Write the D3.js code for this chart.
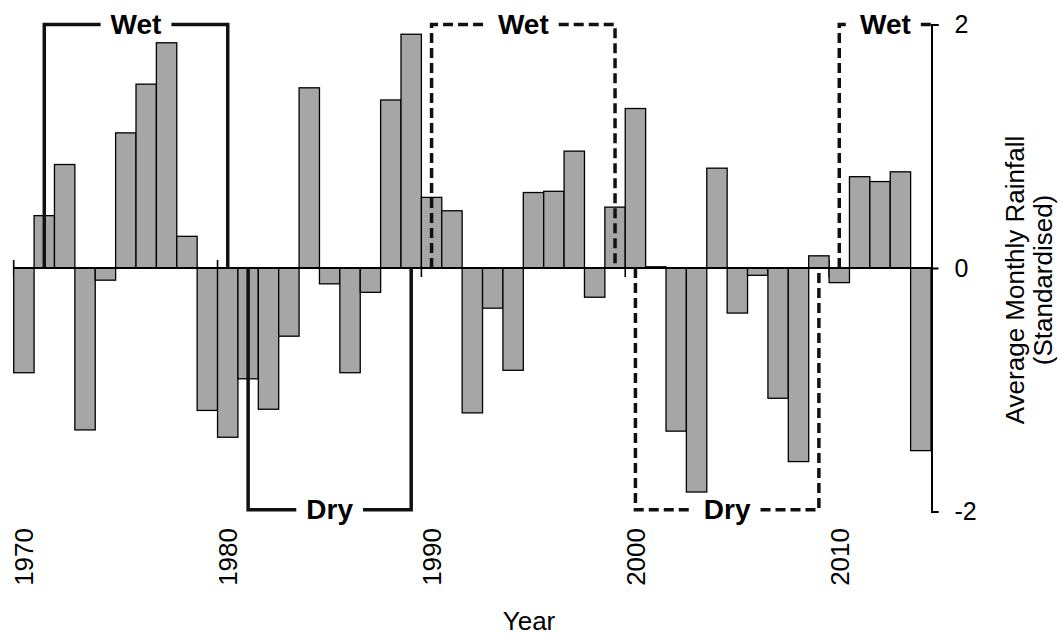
<!DOCTYPE html>
<html>
<head>
<meta charset="utf-8">
<script src="https://cdn.jsdelivr.net/npm/d3@7"></script>
<style>
  body { margin: 0; background: #fff; }
  svg { display: block; }
  text { font-family: "Liberation Sans", Arial, Helvetica, sans-serif; fill: #000; }
</style>
</head>
<body>
<svg id="chart" width="1062" height="637"></svg>
<script>
// Standardised average monthly rainfall, one value per year
const years = [
  1970, 1971, 1972, 1973, 1974, 1975, 1976, 1977, 1978, 1979,
  1980, 1981, 1982, 1983, 1984, 1985, 1986, 1987, 1988, 1989,
  1990, 1991, 1992, 1993, 1994, 1995, 1996, 1997, 1998, 1999,
  2000, 2001, 2002, 2003, 2004, 2005, 2006, 2007, 2008, 2009,
  2010, 2011, 2012, 2013, 2014
];
const rainfall = [
  -0.86, 0.43, 0.85, -1.33, -0.10, 1.11, 1.51, 1.85, 0.26, -1.17,
  -1.39, -0.91, -1.16, -0.56, 1.48, -0.13, -0.86, -0.20, 1.38, 1.92,
  0.58, 0.47, -1.19, -0.33, -0.84, 0.62, 0.63, 0.96, -0.24, 0.50,
  1.31, 0.01, -1.34, -1.84, 0.82, -0.37, -0.06, -1.07, -1.59, 0.10,
  -0.12, 0.75, 0.71, 0.79, -1.50
];

// Axis ticks and labels
const decadeTicks = [1970, 1980, 1990, 2000, 2010];
const valueTicks = [-2, 0, 2];

// Wet / dry phases (first and last year of each; null = still running)
const phaseLabels = ["Wet", "Dry", "Wet", "Dry", "Wet"];
const phaseStart  = [1971, 1981, 1990, 2000, 2010];
const phaseEnd    = [1980, 1989, 1999, 2009, null];
const phaseSet    = [1, 1, 2, 2, 2];

const svg = d3.select("#chart");

const x = d3.scaleBand().domain(years).range([13.7, 931]).padding(0);
const y = d3.scaleLinear().domain([-2, 2]).range([511.5, 24.5]);
const bw = x.bandwidth();
const y0 = y(0);
const axisX = 931.5;

// Decade tick marks on the zero line
svg.append("g")
  .selectAll("line")
  .data(decadeTicks)
  .join("line")
  .attr("x1", d => x(d)).attr("x2", d => x(d))
  .attr("y1", y0 - 8).attr("y2", y0 + 9)
  .attr("stroke", "#000").attr("stroke-width", 1.6);

// Bars
svg.append("g")
  .selectAll("rect")
  .data(years.map((yr, i) => ({ yr, v: rainfall[i] })))
  .join("rect")
  .attr("x", d => x(d.yr))
  .attr("width", bw)
  .attr("y", d => y(Math.max(0, d.v)))
  .attr("height", d => Math.abs(y(d.v) - y0))
  .attr("fill", "#a6a6a6")
  .attr("stroke", "#000")
  .attr("stroke-width", 1.3);

// Zero line
svg.append("line")
  .attr("x1", x(years[0])).attr("x2", axisX)
  .attr("y1", y0).attr("y2", y0)
  .attr("stroke", "#000").attr("stroke-width", 2);

// Value axis on the right
const yAxis = svg.append("g")
  .attr("transform", `translate(${axisX},0)`)
  .call(d3.axisRight(y).tickValues(valueTicks).tickSize(7).tickPadding(16)
    .tickFormat(d => String(d)));
yAxis.selectAll("path, line").attr("stroke", "#000").attr("stroke-width", 2);
yAxis.selectAll("text")
  .style("font-size", "25px")
  .style("font-family", "'Liberation Sans', Arial, sans-serif")
  .attr("fill", "#000");

// Year labels
svg.append("g")
  .selectAll("text")
  .data(decadeTicks)
  .join("text")
  .attr("transform", d => `translate(${x(d) + bw / 2},528) rotate(-90)`)
  .attr("text-anchor", "end")
  .attr("dy", "0.36em")
  .style("font-size", "26px")
  .text(d => d);

svg.append("text")
  .attr("x", 529).attr("y", 630)
  .attr("text-anchor", "middle")
  .style("font-size", "26px")
  .text("Year");

// Value axis title
svg.append("text")
  .attr("transform", "translate(1024,280) rotate(-90)")
  .attr("text-anchor", "middle")
  .style("font-size", "26px")
  .text("Average Monthly Rainfall");
svg.append("text")
  .attr("transform", "translate(1052,280) rotate(-90)")
  .attr("text-anchor", "middle")
  .style("font-size", "26px")
  .text("(Standardised)");

// Phase brackets
const phaseG = svg.append("g");
phaseLabels.forEach((label, i) => {
  const x1 = x(phaseStart[i]) + bw / 2;
  const x2 = phaseEnd[i] === null ? axisX : x(phaseEnd[i]) + bw / 2;
  const level = label === "Wet" ? y(2) : y(-1.985);
  const cx = (x1 + x2) / 2;
  const dash = phaseSet[i] === 2 ? "10,5" : null;

  const t = phaseG.append("text")
    .attr("x", cx).attr("y", level + 9.5)
    .attr("text-anchor", "middle")
    .style("font-size", "28px")
    .style("font-weight", "bold")
    .text(label);
  const w = t.node().getComputedTextLength();
  const gap = 10;

  const left = d3.path();
  left.moveTo(x1, y0);
  left.lineTo(x1, level);
  left.lineTo(cx - w / 2 - gap, level);

  const right = d3.path();
  right.moveTo(cx + w / 2 + gap, level);
  right.lineTo(x2, level);
  if (phaseEnd[i] !== null) right.lineTo(x2, y0);

  [left, right].forEach(p => {
    phaseG.append("path")
      .attr("d", p.toString())
      .attr("fill", "none")
      .attr("stroke", "#111")
      .attr("stroke-width", 3.5)
      .attr("stroke-dasharray", dash);
  });
});
</script>
</body>
</html>
